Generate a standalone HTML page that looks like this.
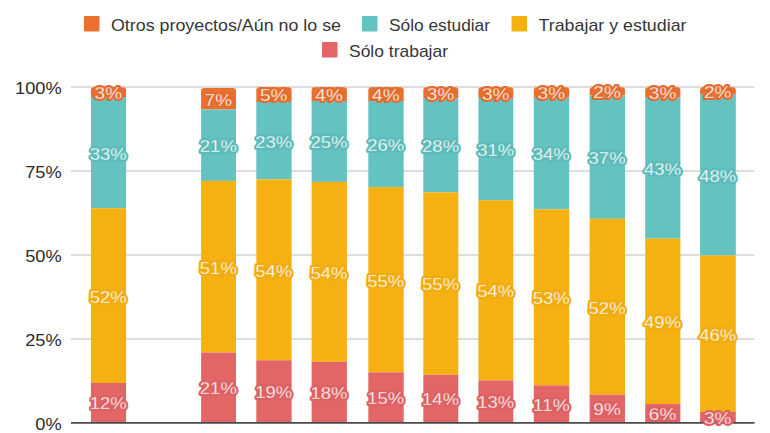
<!DOCTYPE html>
<html><head><meta charset="utf-8"><style>
html,body{margin:0;padding:0;background:#fff;width:770px;height:433px;overflow:hidden}
svg{display:block}
text{font-family:"Liberation Sans",sans-serif}
.ax{font-size:17px;fill:#2b2b2b}
.lg{font-size:16.6px;fill:#363636}
.bh{font-size:17px;stroke-width:4;stroke-linejoin:round}
.bl{font-size:17px;fill:#fff;stroke-width:.3}
</style></head><body>
<svg width="770" height="433" viewBox="0 0 770 433">
<line x1="71" y1="87.00" x2="754.5" y2="87.00" stroke="#d2d2d2" stroke-width="1.5"/>
<line x1="71" y1="171.00" x2="754.5" y2="171.00" stroke="#d2d2d2" stroke-width="1.5"/>
<line x1="71" y1="255.00" x2="754.5" y2="255.00" stroke="#d2d2d2" stroke-width="1.5"/>
<line x1="71" y1="339.00" x2="754.5" y2="339.00" stroke="#d2d2d2" stroke-width="1.5"/>
<text x="61.6" y="94.10" text-anchor="end" class="ax" textLength="46.6" lengthAdjust="spacingAndGlyphs">100%</text>
<text x="61.6" y="178.10" text-anchor="end" class="ax" textLength="36.4" lengthAdjust="spacingAndGlyphs">75%</text>
<text x="61.6" y="262.10" text-anchor="end" class="ax" textLength="36.4" lengthAdjust="spacingAndGlyphs">50%</text>
<text x="61.6" y="346.10" text-anchor="end" class="ax" textLength="36.4" lengthAdjust="spacingAndGlyphs">25%</text>
<text x="61.6" y="430.10" text-anchor="end" class="ax" textLength="26.3" lengthAdjust="spacingAndGlyphs">0%</text>
<path d="M90.90,97.00 V90.20 Q90.90,87.20 93.90,87.20 H123.10 Q126.10,87.20 126.10,90.20 V97.00 Z" fill="#E9702F"/>
<rect x="90.90" y="97.00" width="35.20" height="111.20" fill="#64C2C0"/>
<rect x="90.90" y="208.20" width="35.20" height="174.80" fill="#F5B112"/>
<rect x="90.90" y="383.00" width="35.20" height="39.00" fill="#E26666"/>
<path d="M201.10,109.60 V91.00 Q201.10,88.00 204.10,88.00 H233.00 Q236.00,88.00 236.00,91.00 V109.60 Z" fill="#E9702F"/>
<rect x="201.10" y="109.60" width="34.90" height="71.30" fill="#64C2C0"/>
<rect x="201.10" y="180.90" width="34.90" height="171.60" fill="#F5B112"/>
<rect x="201.10" y="352.50" width="34.90" height="69.50" fill="#E26666"/>
<path d="M256.30,101.90 V90.20 Q256.30,87.20 259.30,87.20 H288.60 Q291.60,87.20 291.60,90.20 V101.90 Z" fill="#E9702F"/>
<rect x="256.30" y="101.90" width="35.30" height="77.40" fill="#64C2C0"/>
<rect x="256.30" y="179.30" width="35.30" height="180.95" fill="#F5B112"/>
<rect x="256.30" y="360.25" width="35.30" height="61.75" fill="#E26666"/>
<path d="M311.60,101.00 V90.20 Q311.60,87.20 314.60,87.20 H343.90 Q346.90,87.20 346.90,90.20 V101.00 Z" fill="#E9702F"/>
<rect x="311.60" y="101.00" width="35.30" height="80.90" fill="#64C2C0"/>
<rect x="311.60" y="181.90" width="35.30" height="179.95" fill="#F5B112"/>
<rect x="311.60" y="361.85" width="35.30" height="60.15" fill="#E26666"/>
<path d="M368.30,101.00 V90.20 Q368.30,87.20 371.30,87.20 H400.70 Q403.70,87.20 403.70,90.20 V101.00 Z" fill="#E9702F"/>
<rect x="368.30" y="101.00" width="35.40" height="86.10" fill="#64C2C0"/>
<rect x="368.30" y="187.10" width="35.40" height="185.20" fill="#F5B112"/>
<rect x="368.30" y="372.30" width="35.40" height="49.70" fill="#E26666"/>
<path d="M423.30,98.20 V90.20 Q423.30,87.20 426.30,87.20 H455.30 Q458.30,87.20 458.30,90.20 V98.20 Z" fill="#E9702F"/>
<rect x="423.30" y="98.20" width="35.00" height="94.10" fill="#64C2C0"/>
<rect x="423.30" y="192.30" width="35.00" height="182.55" fill="#F5B112"/>
<rect x="423.30" y="374.85" width="35.00" height="47.15" fill="#E26666"/>
<path d="M478.40,98.00 V90.20 Q478.40,87.20 481.40,87.20 H510.30 Q513.30,87.20 513.30,90.20 V98.00 Z" fill="#E9702F"/>
<rect x="478.40" y="98.00" width="34.90" height="102.20" fill="#64C2C0"/>
<rect x="478.40" y="200.20" width="34.90" height="180.15" fill="#F5B112"/>
<rect x="478.40" y="380.35" width="34.90" height="41.65" fill="#E26666"/>
<path d="M533.80,97.80 V90.20 Q533.80,87.20 536.80,87.20 H566.20 Q569.20,87.20 569.20,90.20 V97.80 Z" fill="#E9702F"/>
<rect x="533.80" y="97.80" width="35.40" height="111.50" fill="#64C2C0"/>
<rect x="533.80" y="209.30" width="35.40" height="176.05" fill="#F5B112"/>
<rect x="533.80" y="385.35" width="35.40" height="36.65" fill="#E26666"/>
<path d="M589.60,95.30 V90.20 Q589.60,87.20 592.60,87.20 H622.00 Q625.00,87.20 625.00,90.20 V95.30 Z" fill="#E9702F"/>
<rect x="589.60" y="95.30" width="35.40" height="123.45" fill="#64C2C0"/>
<rect x="589.60" y="218.75" width="35.40" height="175.95" fill="#F5B112"/>
<rect x="589.60" y="394.70" width="35.40" height="27.30" fill="#E26666"/>
<path d="M645.20,97.50 V90.20 Q645.20,87.20 648.20,87.20 H677.40 Q680.40,87.20 680.40,90.20 V97.50 Z" fill="#E9702F"/>
<rect x="645.20" y="97.50" width="35.20" height="141.15" fill="#64C2C0"/>
<rect x="645.20" y="238.65" width="35.20" height="165.40" fill="#F5B112"/>
<rect x="645.20" y="404.05" width="35.20" height="17.95" fill="#E26666"/>
<path d="M700.10,94.80 V90.20 Q700.10,87.20 703.10,87.20 H732.80 Q735.80,87.20 735.80,90.20 V94.80 Z" fill="#E9702F"/>
<rect x="700.10" y="94.80" width="35.70" height="160.70" fill="#64C2C0"/>
<rect x="700.10" y="255.50" width="35.70" height="156.50" fill="#F5B112"/>
<rect x="700.10" y="412.00" width="35.70" height="10.00" fill="#E26666"/>
<line x1="71" y1="422.8" x2="754.5" y2="422.8" stroke="#4a4a4a" stroke-width="1.8"/>
<text x="108.30" y="409.40" text-anchor="middle" textLength="37.0" lengthAdjust="spacingAndGlyphs" class="bh" stroke="#DC6164" fill="#E26666">12%</text>
<text x="108.30" y="409.40" text-anchor="middle" textLength="37.0" lengthAdjust="spacingAndGlyphs" class="bl" stroke="#E26666">12%</text>
<text x="108.30" y="302.50" text-anchor="middle" textLength="37.0" lengthAdjust="spacingAndGlyphs" class="bh" stroke="#EFAC12" fill="#F5B112">52%</text>
<text x="108.30" y="302.50" text-anchor="middle" textLength="37.0" lengthAdjust="spacingAndGlyphs" class="bl" stroke="#F5B112">52%</text>
<text x="108.30" y="159.50" text-anchor="middle" textLength="37.0" lengthAdjust="spacingAndGlyphs" class="bh" stroke="#5EBAB8" fill="#64C2C0">33%</text>
<text x="108.30" y="159.50" text-anchor="middle" textLength="37.0" lengthAdjust="spacingAndGlyphs" class="bl" stroke="#64C2C0">33%</text>
<text x="108.30" y="99.00" text-anchor="middle" textLength="27.5" lengthAdjust="spacingAndGlyphs" class="bh" stroke="#E26C2E" fill="#E9702F">3%</text>
<text x="108.30" y="99.00" text-anchor="middle" textLength="27.5" lengthAdjust="spacingAndGlyphs" class="bl" stroke="#E9702F">3%</text>
<text x="218.35" y="394.15" text-anchor="middle" textLength="37.0" lengthAdjust="spacingAndGlyphs" class="bh" stroke="#DC6164" fill="#E26666">21%</text>
<text x="218.35" y="394.15" text-anchor="middle" textLength="37.0" lengthAdjust="spacingAndGlyphs" class="bl" stroke="#E26666">21%</text>
<text x="218.35" y="273.60" text-anchor="middle" textLength="37.0" lengthAdjust="spacingAndGlyphs" class="bh" stroke="#EFAC12" fill="#F5B112">51%</text>
<text x="218.35" y="273.60" text-anchor="middle" textLength="37.0" lengthAdjust="spacingAndGlyphs" class="bl" stroke="#F5B112">51%</text>
<text x="218.35" y="152.15" text-anchor="middle" textLength="37.0" lengthAdjust="spacingAndGlyphs" class="bh" stroke="#5EBAB8" fill="#64C2C0">21%</text>
<text x="218.35" y="152.15" text-anchor="middle" textLength="37.0" lengthAdjust="spacingAndGlyphs" class="bl" stroke="#64C2C0">21%</text>
<text x="218.35" y="105.70" text-anchor="middle" textLength="27.5" lengthAdjust="spacingAndGlyphs" class="bh" stroke="#E26C2E" fill="#E9702F">7%</text>
<text x="218.35" y="105.70" text-anchor="middle" textLength="27.5" lengthAdjust="spacingAndGlyphs" class="bl" stroke="#E9702F">7%</text>
<text x="273.75" y="398.02" text-anchor="middle" textLength="37.0" lengthAdjust="spacingAndGlyphs" class="bh" stroke="#DC6164" fill="#E26666">19%</text>
<text x="273.75" y="398.02" text-anchor="middle" textLength="37.0" lengthAdjust="spacingAndGlyphs" class="bl" stroke="#E26666">19%</text>
<text x="273.75" y="276.67" text-anchor="middle" textLength="37.0" lengthAdjust="spacingAndGlyphs" class="bh" stroke="#EFAC12" fill="#F5B112">54%</text>
<text x="273.75" y="276.67" text-anchor="middle" textLength="37.0" lengthAdjust="spacingAndGlyphs" class="bl" stroke="#F5B112">54%</text>
<text x="273.75" y="147.50" text-anchor="middle" textLength="37.0" lengthAdjust="spacingAndGlyphs" class="bh" stroke="#5EBAB8" fill="#64C2C0">23%</text>
<text x="273.75" y="147.50" text-anchor="middle" textLength="37.0" lengthAdjust="spacingAndGlyphs" class="bl" stroke="#64C2C0">23%</text>
<text x="273.75" y="101.45" text-anchor="middle" textLength="27.5" lengthAdjust="spacingAndGlyphs" class="bh" stroke="#E26C2E" fill="#E9702F">5%</text>
<text x="273.75" y="101.45" text-anchor="middle" textLength="27.5" lengthAdjust="spacingAndGlyphs" class="bl" stroke="#E9702F">5%</text>
<text x="329.05" y="398.82" text-anchor="middle" textLength="37.0" lengthAdjust="spacingAndGlyphs" class="bh" stroke="#DC6164" fill="#E26666">18%</text>
<text x="329.05" y="398.82" text-anchor="middle" textLength="37.0" lengthAdjust="spacingAndGlyphs" class="bl" stroke="#E26666">18%</text>
<text x="329.05" y="278.77" text-anchor="middle" textLength="37.0" lengthAdjust="spacingAndGlyphs" class="bh" stroke="#EFAC12" fill="#F5B112">54%</text>
<text x="329.05" y="278.77" text-anchor="middle" textLength="37.0" lengthAdjust="spacingAndGlyphs" class="bl" stroke="#F5B112">54%</text>
<text x="329.05" y="148.35" text-anchor="middle" textLength="37.0" lengthAdjust="spacingAndGlyphs" class="bh" stroke="#5EBAB8" fill="#64C2C0">25%</text>
<text x="329.05" y="148.35" text-anchor="middle" textLength="37.0" lengthAdjust="spacingAndGlyphs" class="bl" stroke="#64C2C0">25%</text>
<text x="329.05" y="101.00" text-anchor="middle" textLength="27.5" lengthAdjust="spacingAndGlyphs" class="bh" stroke="#E26C2E" fill="#E9702F">4%</text>
<text x="329.05" y="101.00" text-anchor="middle" textLength="27.5" lengthAdjust="spacingAndGlyphs" class="bl" stroke="#E9702F">4%</text>
<text x="385.80" y="404.05" text-anchor="middle" textLength="37.0" lengthAdjust="spacingAndGlyphs" class="bh" stroke="#DC6164" fill="#E26666">15%</text>
<text x="385.80" y="404.05" text-anchor="middle" textLength="37.0" lengthAdjust="spacingAndGlyphs" class="bl" stroke="#E26666">15%</text>
<text x="385.80" y="286.60" text-anchor="middle" textLength="37.0" lengthAdjust="spacingAndGlyphs" class="bh" stroke="#EFAC12" fill="#F5B112">55%</text>
<text x="385.80" y="286.60" text-anchor="middle" textLength="37.0" lengthAdjust="spacingAndGlyphs" class="bl" stroke="#F5B112">55%</text>
<text x="385.80" y="150.95" text-anchor="middle" textLength="37.0" lengthAdjust="spacingAndGlyphs" class="bh" stroke="#5EBAB8" fill="#64C2C0">26%</text>
<text x="385.80" y="150.95" text-anchor="middle" textLength="37.0" lengthAdjust="spacingAndGlyphs" class="bl" stroke="#64C2C0">26%</text>
<text x="385.80" y="101.00" text-anchor="middle" textLength="27.5" lengthAdjust="spacingAndGlyphs" class="bh" stroke="#E26C2E" fill="#E9702F">4%</text>
<text x="385.80" y="101.00" text-anchor="middle" textLength="27.5" lengthAdjust="spacingAndGlyphs" class="bl" stroke="#E9702F">4%</text>
<text x="440.60" y="405.32" text-anchor="middle" textLength="37.0" lengthAdjust="spacingAndGlyphs" class="bh" stroke="#DC6164" fill="#E26666">14%</text>
<text x="440.60" y="405.32" text-anchor="middle" textLength="37.0" lengthAdjust="spacingAndGlyphs" class="bl" stroke="#E26666">14%</text>
<text x="440.60" y="290.48" text-anchor="middle" textLength="37.0" lengthAdjust="spacingAndGlyphs" class="bh" stroke="#EFAC12" fill="#F5B112">55%</text>
<text x="440.60" y="290.48" text-anchor="middle" textLength="37.0" lengthAdjust="spacingAndGlyphs" class="bl" stroke="#F5B112">55%</text>
<text x="440.60" y="152.15" text-anchor="middle" textLength="37.0" lengthAdjust="spacingAndGlyphs" class="bh" stroke="#5EBAB8" fill="#64C2C0">28%</text>
<text x="440.60" y="152.15" text-anchor="middle" textLength="37.0" lengthAdjust="spacingAndGlyphs" class="bl" stroke="#64C2C0">28%</text>
<text x="440.60" y="99.60" text-anchor="middle" textLength="27.5" lengthAdjust="spacingAndGlyphs" class="bh" stroke="#E26C2E" fill="#E9702F">3%</text>
<text x="440.60" y="99.60" text-anchor="middle" textLength="27.5" lengthAdjust="spacingAndGlyphs" class="bl" stroke="#E9702F">3%</text>
<text x="495.65" y="408.07" text-anchor="middle" textLength="37.0" lengthAdjust="spacingAndGlyphs" class="bh" stroke="#DC6164" fill="#E26666">13%</text>
<text x="495.65" y="408.07" text-anchor="middle" textLength="37.0" lengthAdjust="spacingAndGlyphs" class="bl" stroke="#E26666">13%</text>
<text x="495.65" y="297.17" text-anchor="middle" textLength="37.0" lengthAdjust="spacingAndGlyphs" class="bh" stroke="#EFAC12" fill="#F5B112">54%</text>
<text x="495.65" y="297.17" text-anchor="middle" textLength="37.0" lengthAdjust="spacingAndGlyphs" class="bl" stroke="#F5B112">54%</text>
<text x="495.65" y="156.00" text-anchor="middle" textLength="37.0" lengthAdjust="spacingAndGlyphs" class="bh" stroke="#5EBAB8" fill="#64C2C0">31%</text>
<text x="495.65" y="156.00" text-anchor="middle" textLength="37.0" lengthAdjust="spacingAndGlyphs" class="bl" stroke="#64C2C0">31%</text>
<text x="495.65" y="99.50" text-anchor="middle" textLength="27.5" lengthAdjust="spacingAndGlyphs" class="bh" stroke="#E26C2E" fill="#E9702F">3%</text>
<text x="495.65" y="99.50" text-anchor="middle" textLength="27.5" lengthAdjust="spacingAndGlyphs" class="bl" stroke="#E9702F">3%</text>
<text x="551.30" y="410.57" text-anchor="middle" textLength="37.0" lengthAdjust="spacingAndGlyphs" class="bh" stroke="#DC6164" fill="#E26666">11%</text>
<text x="551.30" y="410.57" text-anchor="middle" textLength="37.0" lengthAdjust="spacingAndGlyphs" class="bl" stroke="#E26666">11%</text>
<text x="551.30" y="304.23" text-anchor="middle" textLength="37.0" lengthAdjust="spacingAndGlyphs" class="bh" stroke="#EFAC12" fill="#F5B112">53%</text>
<text x="551.30" y="304.23" text-anchor="middle" textLength="37.0" lengthAdjust="spacingAndGlyphs" class="bl" stroke="#F5B112">53%</text>
<text x="551.30" y="160.45" text-anchor="middle" textLength="37.0" lengthAdjust="spacingAndGlyphs" class="bh" stroke="#5EBAB8" fill="#64C2C0">34%</text>
<text x="551.30" y="160.45" text-anchor="middle" textLength="37.0" lengthAdjust="spacingAndGlyphs" class="bl" stroke="#64C2C0">34%</text>
<text x="551.30" y="99.40" text-anchor="middle" textLength="27.5" lengthAdjust="spacingAndGlyphs" class="bh" stroke="#E26C2E" fill="#E9702F">3%</text>
<text x="551.30" y="99.40" text-anchor="middle" textLength="27.5" lengthAdjust="spacingAndGlyphs" class="bl" stroke="#E9702F">3%</text>
<text x="607.10" y="415.25" text-anchor="middle" textLength="27.5" lengthAdjust="spacingAndGlyphs" class="bh" stroke="#DC6164" fill="#E26666">9%</text>
<text x="607.10" y="415.25" text-anchor="middle" textLength="27.5" lengthAdjust="spacingAndGlyphs" class="bl" stroke="#E26666">9%</text>
<text x="607.10" y="313.62" text-anchor="middle" textLength="37.0" lengthAdjust="spacingAndGlyphs" class="bh" stroke="#EFAC12" fill="#F5B112">52%</text>
<text x="607.10" y="313.62" text-anchor="middle" textLength="37.0" lengthAdjust="spacingAndGlyphs" class="bl" stroke="#F5B112">52%</text>
<text x="607.10" y="163.93" text-anchor="middle" textLength="37.0" lengthAdjust="spacingAndGlyphs" class="bh" stroke="#5EBAB8" fill="#64C2C0">37%</text>
<text x="607.10" y="163.93" text-anchor="middle" textLength="37.0" lengthAdjust="spacingAndGlyphs" class="bl" stroke="#64C2C0">37%</text>
<text x="607.10" y="98.15" text-anchor="middle" textLength="27.5" lengthAdjust="spacingAndGlyphs" class="bh" stroke="#E26C2E" fill="#E9702F">2%</text>
<text x="607.10" y="98.15" text-anchor="middle" textLength="27.5" lengthAdjust="spacingAndGlyphs" class="bl" stroke="#E9702F">2%</text>
<text x="662.60" y="419.92" text-anchor="middle" textLength="27.5" lengthAdjust="spacingAndGlyphs" class="bh" stroke="#DC6164" fill="#E26666">6%</text>
<text x="662.60" y="419.92" text-anchor="middle" textLength="27.5" lengthAdjust="spacingAndGlyphs" class="bl" stroke="#E26666">6%</text>
<text x="662.60" y="328.25" text-anchor="middle" textLength="37.0" lengthAdjust="spacingAndGlyphs" class="bh" stroke="#EFAC12" fill="#F5B112">49%</text>
<text x="662.60" y="328.25" text-anchor="middle" textLength="37.0" lengthAdjust="spacingAndGlyphs" class="bl" stroke="#F5B112">49%</text>
<text x="662.60" y="174.97" text-anchor="middle" textLength="37.0" lengthAdjust="spacingAndGlyphs" class="bh" stroke="#5EBAB8" fill="#64C2C0">43%</text>
<text x="662.60" y="174.97" text-anchor="middle" textLength="37.0" lengthAdjust="spacingAndGlyphs" class="bl" stroke="#64C2C0">43%</text>
<text x="662.60" y="99.25" text-anchor="middle" textLength="27.5" lengthAdjust="spacingAndGlyphs" class="bh" stroke="#E26C2E" fill="#E9702F">3%</text>
<text x="662.60" y="99.25" text-anchor="middle" textLength="27.5" lengthAdjust="spacingAndGlyphs" class="bl" stroke="#E9702F">3%</text>
<text x="717.75" y="423.90" text-anchor="middle" textLength="27.5" lengthAdjust="spacingAndGlyphs" class="bh" stroke="#DC6164" fill="#E26666">3%</text>
<text x="717.75" y="423.90" text-anchor="middle" textLength="27.5" lengthAdjust="spacingAndGlyphs" class="bl" stroke="#E26666">3%</text>
<text x="717.75" y="340.65" text-anchor="middle" textLength="37.0" lengthAdjust="spacingAndGlyphs" class="bh" stroke="#EFAC12" fill="#F5B112">46%</text>
<text x="717.75" y="340.65" text-anchor="middle" textLength="37.0" lengthAdjust="spacingAndGlyphs" class="bl" stroke="#F5B112">46%</text>
<text x="717.75" y="182.05" text-anchor="middle" textLength="37.0" lengthAdjust="spacingAndGlyphs" class="bh" stroke="#5EBAB8" fill="#64C2C0">48%</text>
<text x="717.75" y="182.05" text-anchor="middle" textLength="37.0" lengthAdjust="spacingAndGlyphs" class="bl" stroke="#64C2C0">48%</text>
<text x="717.75" y="97.90" text-anchor="middle" textLength="27.5" lengthAdjust="spacingAndGlyphs" class="bh" stroke="#E26C2E" fill="#E9702F">2%</text>
<text x="717.75" y="97.90" text-anchor="middle" textLength="27.5" lengthAdjust="spacingAndGlyphs" class="bl" stroke="#E9702F">2%</text>
<rect x="84" y="16" width="15.5" height="15.5" rx="1.2" fill="#E9702F"/>
<text x="111" y="30.5" class="lg" textLength="230" lengthAdjust="spacingAndGlyphs">Otros proyectos/Aún no lo se</text>
<rect x="362" y="16" width="15.5" height="15.5" rx="1.2" fill="#64C2C0"/>
<text x="389" y="30.5" class="lg" textLength="101" lengthAdjust="spacingAndGlyphs">Sólo estudiar</text>
<rect x="511.5" y="16" width="15.5" height="15.5" rx="1.2" fill="#F5B112"/>
<text x="538.5" y="30.5" class="lg" textLength="148" lengthAdjust="spacingAndGlyphs">Trabajar y estudiar</text>
<rect x="322" y="42" width="15.5" height="15.5" rx="1.2" fill="#E26666"/>
<text x="349" y="56.5" class="lg" textLength="99" lengthAdjust="spacingAndGlyphs">Sólo trabajar</text>
</svg>
</body></html>
